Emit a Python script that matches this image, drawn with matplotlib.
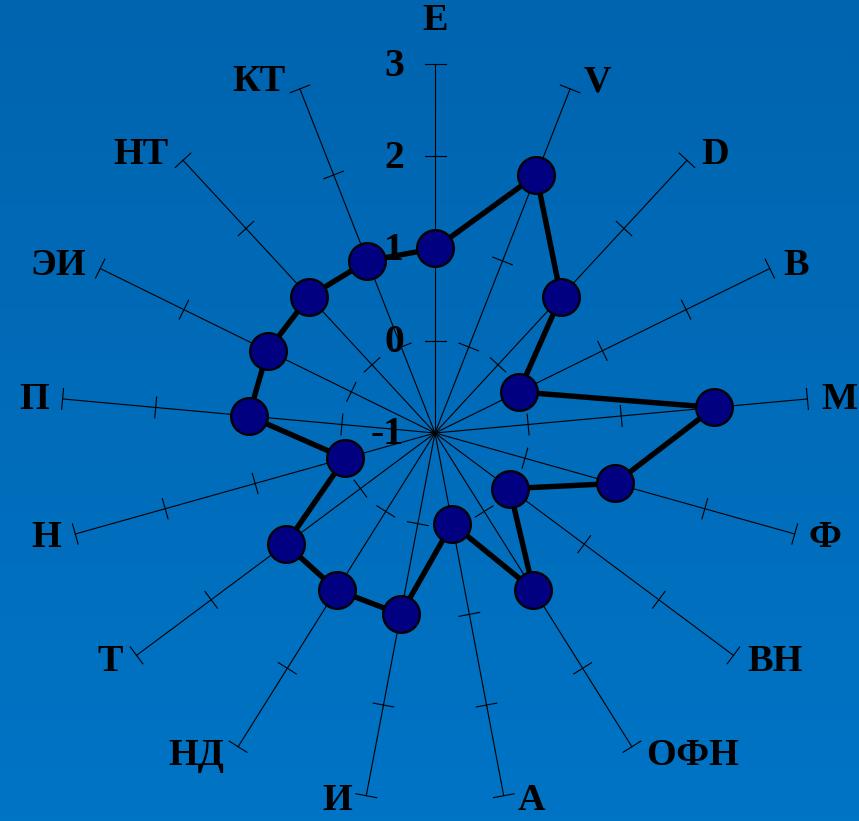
import numpy as np
import matplotlib
matplotlib.use('Agg')
import matplotlib.pyplot as plt
from matplotlib.colors import LinearSegmentedColormap

# axis names, clockwise from the top
labels = ['E', 'V', 'D', 'B', 'M', 'Ф', 'ВН', 'ОФН', 'А', 'И', 'НД', 'Т', 'Н', 'П', 'ЭИ', 'НТ', 'КТ']
values = [1, 2, 1, 0, 2, 1, 0, 1, 0, 1, 1, 1, 0, 1, 1, 1, 1]
scale_ticks = [-1, 0, 1, 2, 3]
r_min, r_max = -1, 3

plt.rcParams['font.family'] = ['Liberation Serif', 'DejaVu Serif']
plt.rcParams['font.weight'] = 'bold'

W, H = 859, 821
fig = plt.figure(figsize=(W / 100, H / 100), dpi=100)
ax = fig.add_axes([0, 0, 1, 1])
ax.set_xlim(0, W)
ax.set_ylim(H, 0)
ax.axis('off')

# background gradient
cmap = LinearSegmentedColormap.from_list('bg', ['#0064AF', '#0074C5'])
grad = np.linspace(0, 1, 256).reshape(-1, 1)
ax.imshow(grad, cmap=cmap, extent=[0, W, H, 0], aspect='auto', zorder=0)

# chart geometry (pixels)
cx, cy = 435, 433
sx, sy = 374 / (r_max - r_min), 369 / (r_max - r_min)
n = len(labels)
ang = np.arange(n) * 2 * np.pi / n
sin, cos = np.sin(ang), np.cos(ang)


def to_xy(r, i):
    d = r - r_min
    return cx + d * sx * sin[i], cy - d * sy * cos[i]


for i in range(n):
    x1, y1 = to_xy(r_max, i)
    ax.plot([cx, x1], [cy, y1], color='black', lw=0.8, zorder=1)
    # perpendicular tick marks
    ux, uy = x1 - cx, y1 - cy
    L = np.hypot(ux, uy)
    px, py = -uy / L * 10.5, ux / L * 10.5
    for t in scale_ticks[1:]:
        tx, ty = to_xy(t, i)
        ax.plot([tx - px, tx + px], [ty - py, ty + py], color='black', lw=0.8, zorder=1)
    # category labels
    if abs(sin[i]) < 0.05:
        ax.text(x1, y1 - 43, labels[i], ha='center', va='center', fontsize=27.5,
                fontweight='bold', zorder=5)
    else:
        ha = 'left' if sin[i] > 0 else 'right'
        ly = min(y1 + 1 - 9 * cos[i], 801)
        ax.text(x1 + np.sign(sin[i]) * 14, ly, labels[i], ha=ha,
                va='center', fontsize=27.5, fontweight='bold', zorder=5)

# scale labels on the top axis
for t in scale_ticks:
    tx, ty = to_xy(t, 0)
    ax.text(tx - 31, ty + 2, str(t), ha='right', va='center', fontsize=28.5,
            fontweight='bold', zorder=2)

# data polygon
pts = [to_xy(v, i) for i, v in enumerate(values)]
xs = [p[0] for p in pts] + [pts[0][0]]
ys = [p[1] for p in pts] + [pts[0][1]]
ax.plot(xs, ys, color='black', lw=3.9, zorder=3, solid_joinstyle='round')
ax.plot(xs[:-1], ys[:-1], 'o', ms=26.5, mfc='#000080', mec='black', mew=1.6,
        ls='none', zorder=4)

fig.savefig('out.png', dpi=100)
